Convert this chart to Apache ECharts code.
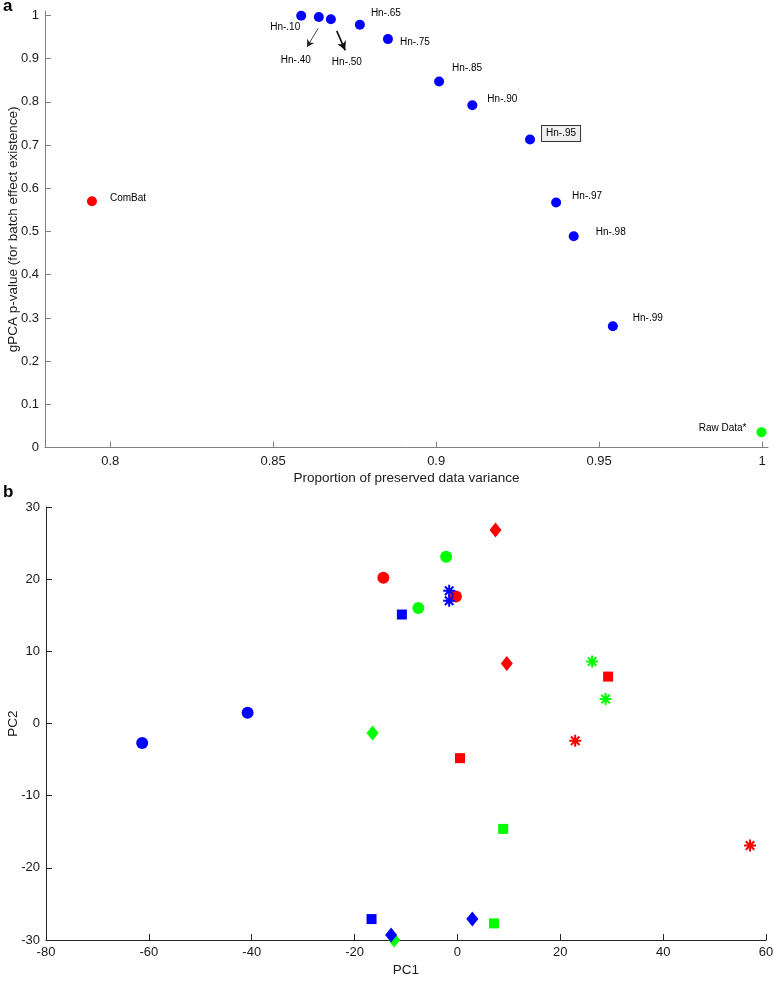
<!DOCTYPE html>
<html><head><meta charset="utf-8">
<script src="https://cdn.jsdelivr.net/npm/echarts@6/dist/echarts.min.js"></script>
<style>html,body{margin:0;padding:0;background:#fff}#c{width:775px;height:983px}</style>
</head><body><div id="c"></div>
<script>
// ---- Panel a data ----
const topNames = ['ComBat','Hn-.10','Hn-.40','Hn-.50','Hn-.65','Hn-.75','Hn-.85','Hn-.90','Hn-.95','Hn-.97','Hn-.98','Hn-.99','Raw Data*'];
const topVariance = [0.7944,0.8586,0.8640,0.8677,0.8766,0.8852,0.9009,0.9111,0.9288,0.9368,0.9422,0.9542,0.9998];
const topPValue = [0.570,0.999,0.996,0.991,0.978,0.945,0.847,0.792,0.713,0.567,0.489,0.281,0.036];
const topXTicks = [0.8,0.85,0.9,0.95,1];
const topYTicks = [0,0.1,0.2,0.3,0.4,0.5,0.6,0.7,0.8,0.9,1];
// arrow annotations (data coordinates)
const arrowFrom = [[0.8638,0.970],[0.8695,0.964]];
const arrowTo = [[0.8604,0.927],[0.8721,0.919]];

// ---- Panel b data ----
const redCircles = [[-14.4,20.2],[-0.3,17.6]];
const greenCircles = [[-2.2,23.1],[-7.6,16.0]];
const blueCircles = [[-61.3,-2.7],[-40.8,1.5]];
const redSquares = [[29.3,6.5],[0.5,-4.8]];
const greenSquares = [[8.9,-14.6],[7.1,-27.7]];
const blueSquares = [[-10.8,15.1],[-16.7,-27.1]];
const redDiamonds = [[7.4,26.8],[9.6,8.3]];
const greenDiamonds = [[-16.5,-1.3],[-12.3,-30.0]];
const blueDiamonds = [[-12.9,-29.3],[2.9,-27.1]];
const redStars = [[22.9,-2.4],[56.9,-16.9]];
const greenStars = [[26.2,8.6],[28.8,3.4]];
const blueStars = [[-1.6,18.4],[-1.6,17.0]];
const bXTicks = {min:-80,max:60,interval:20};
const bYTicks = {min:-30,max:30,interval:10};

const FONT = "'Liberation Sans', Arial, Helvetica, sans-serif";
const RED='#ff0000', GREEN='#00ff00', BLUE='#0000ff';

// label placement (style, not data)
const labelLayout = {
  'ComBat':{align:'left',offset:[18,-3]},
  'Hn-.10':{align:'right',offset:[-1,11]},
  'Hn-.40':{align:'center',offset:[-23,43]},
  'Hn-.50':{align:'center',offset:[16,43]},
  'Hn-.65':{align:'left',offset:[11,-12]},
  'Hn-.75':{align:'left',offset:[12,3]},
  'Hn-.85':{align:'left',offset:[13,-13]},
  'Hn-.90':{align:'left',offset:[15,-6]},
  'Hn-.95':{align:'left',offset:[12,-6],box:true},
  'Hn-.97':{align:'left',offset:[16,-6]},
  'Hn-.98':{align:'left',offset:[22,-4]},
  'Hn-.99':{align:'left',offset:[20,-8]},
  'Raw Data*':{align:'right',offset:[-15,-4]}
};

const topData = topNames.map((n,i)=>{
  const L = labelLayout[n];
  const color = n==='ComBat'?RED:(n==='Raw Data*'?GREEN:BLUE);
  const label = {show:true, formatter:'{b}', position:'inside', align:L.align, verticalAlign:'middle',
    offset:L.offset, color:'#000', fontSize:10, fontFamily:FONT};
  if (L.box){ Object.assign(label,{backgroundColor:'#efefef',borderColor:'#333',borderWidth:1,padding:[3,4,2,4]}); }
  return {name:n, value:[topVariance[i], topPValue[i]], itemStyle:{color,opacity:1}, label};
});

const axisCommon = (col)=>({
  axisLine:{show:true,onZero:false,lineStyle:{color:col,width:1}},
  splitLine:{show:false},
  nameMoveOverlap:false
});

const starPath = 'path://M0,-10L0,10M-10,0L10,0M-7.07,-7.07L7.07,7.07M-7.07,7.07L7.07,-7.07';

function bSeries(data, color, shape){
  const s = {type:'scatter', xAxisIndex:1, yAxisIndex:1, data, clip:false, z:3};
  if (shape==='circle'){ s.symbol='circle'; s.symbolSize=12; s.itemStyle={color,opacity:1}; }
  if (shape==='square'){ s.symbol='rect'; s.symbolSize=10; s.itemStyle={color,opacity:1}; }
  if (shape==='diamond'){ s.symbol='diamond'; s.symbolSize=[12,15]; s.itemStyle={color,opacity:1}; }
  if (shape==='star'){ s.symbol=starPath; s.symbolSize=12; s.itemStyle={color:'none',borderColor:color,borderWidth:2,opacity:1}; }
  return s;
}

const option = {
  animation:false,
  backgroundColor:'#fff',
  textStyle:{fontFamily:FONT},
  grid:[
    {left:45, top:11, width:723, height:436.7, containLabel:false, outerBoundsMode:'none'},
    {left:46, top:507, width:720, height:433, containLabel:false, outerBoundsMode:'none'}
  ],
  xAxis:[
    Object.assign({gridIndex:0,type:'value',min:0.78,max:1.0018,
      axisTick:{inside:true,length:6,customValues:topXTicks,lineStyle:{color:'#808080'}},
      axisLabel:{customValues:topXTicks,formatter:v=>String(v),color:'#1a1a1a',fontSize:13,margin:7,fontFamily:FONT},
      name:'Proportion of preserved data variance',nameLocation:'middle',nameGap:24,
      nameTextStyle:{fontSize:13.5,color:'#1a1a1a',fontFamily:FONT}}, axisCommon('#808080')),
    Object.assign({gridIndex:1,type:'value',min:bXTicks.min,max:bXTicks.max,interval:bXTicks.interval,
      axisTick:{inside:true,length:6,lineStyle:{color:'#262626'}},
      axisLabel:{color:'#1a1a1a',fontSize:13,margin:6,fontFamily:FONT},
      name:'PC1',nameLocation:'middle',nameGap:23,
      nameTextStyle:{fontSize:13.5,color:'#1a1a1a',fontFamily:FONT}}, axisCommon('#262626'))
  ],
  yAxis:[
    Object.assign({gridIndex:0,type:'value',min:0,max:1.01,
      axisTick:{inside:true,length:6,customValues:topYTicks,lineStyle:{color:'#808080'}},
      axisLabel:{customValues:topYTicks,formatter:v=>String(v),color:'#1a1a1a',fontSize:13,margin:6,fontFamily:FONT},
      name:'gPCA p-value (for batch effect existence)',nameLocation:'middle',nameGap:25,
      nameTextStyle:{fontSize:13.5,color:'#1a1a1a',fontFamily:FONT}}, axisCommon('#808080')),
    Object.assign({gridIndex:1,type:'value',min:bYTicks.min,max:bYTicks.max,interval:bYTicks.interval,
      axisTick:{inside:true,length:6,lineStyle:{color:'#262626'}},
      axisLabel:{color:'#1a1a1a',fontSize:13,margin:6,fontFamily:FONT},
      name:'PC2',nameLocation:'middle',nameGap:26,
      nameTextStyle:{fontSize:13.5,color:'#1a1a1a',fontFamily:FONT}}, axisCommon('#262626'))
  ],
  graphic:[
    {type:'text',left:3,top:-2,style:{text:'a',font:'bold 17px '+FONT,fill:'#000'}},
    {type:'text',left:3,top:484,style:{text:'b',font:'bold 17px '+FONT,fill:'#000'}}
  ],
  series:[
    {type:'scatter',xAxisIndex:0,yAxisIndex:0,symbol:'circle',symbolSize:10,clip:false,data:topData,
      markLine:{silent:true,animation:false,label:{show:false},
        data:[
          [{coord:arrowFrom[0],symbol:'none'},{coord:arrowTo[0],symbol:'arrow',symbolSize:[6,7],lineStyle:{width:0.8,color:'#222'}}],
          [{coord:arrowFrom[1],symbol:'none'},{coord:arrowTo[1],symbol:'arrow',symbolSize:[7,9],lineStyle:{width:1.6,color:'#111'}}]
        ],
        lineStyle:{type:'solid',color:'#222',width:1}}},
    bSeries(redCircles,RED,'circle'),
    bSeries(greenCircles,GREEN,'circle'),
    bSeries(blueCircles,BLUE,'circle'),
    bSeries(redSquares,RED,'square'),
    bSeries(greenSquares,GREEN,'square'),
    bSeries(blueSquares,BLUE,'square'),
    bSeries(redDiamonds,RED,'diamond'),
    bSeries(greenDiamonds,GREEN,'diamond'),
    bSeries(blueDiamonds,BLUE,'diamond'),
    bSeries(redStars,RED,'star'),
    bSeries(greenStars,GREEN,'star'),
    bSeries(blueStars,BLUE,'star')
  ]
};
const chart = echarts.init(document.getElementById('c'),null,{renderer:'canvas'});
chart.setOption(option);
</script></body></html>
